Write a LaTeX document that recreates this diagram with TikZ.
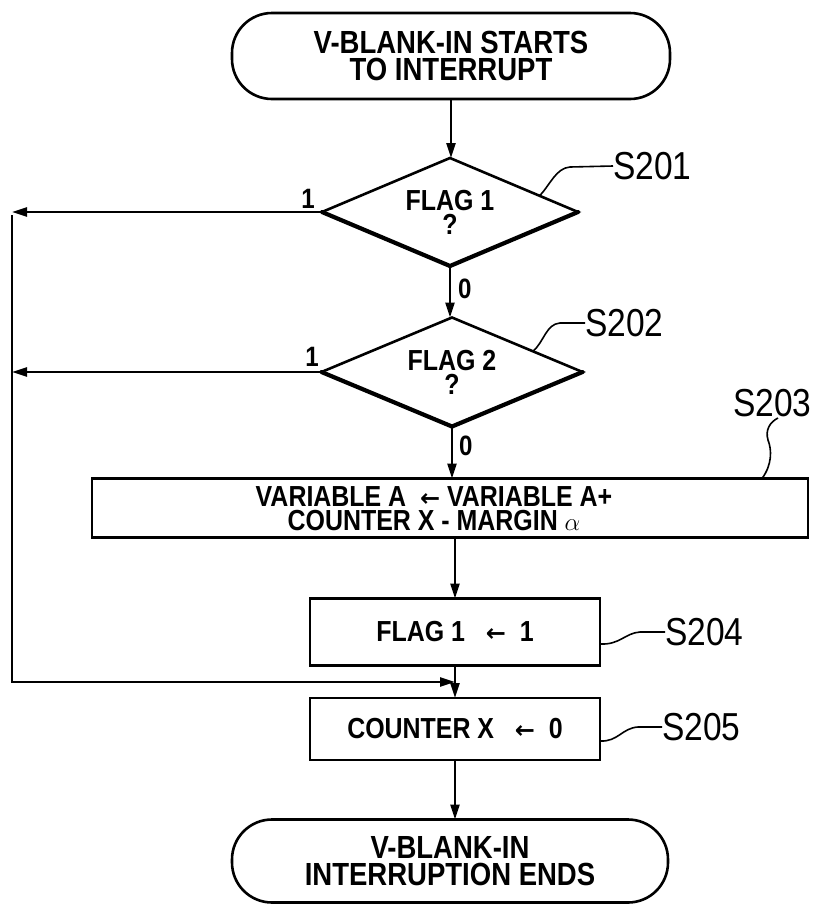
\documentclass[tikz,border=0pt]{standalone}
\usepackage{fontspec}
\setmainfont{Liberation Sans}
\newfontfamily\cond[FakeStretch=0.86]{Liberation Sans}
\newfontfamily\arrowfont{DejaVu Sans}
\newcommand{\larr}{{\arrowfont\bfseries\fontsize{24}{24}\selectfont ←}}
\usetikzlibrary{shapes.geometric,arrows.meta,calc}
\begin{document}
\begin{tikzpicture}[x=1pt,y=-1pt,
  every node/.style={inner sep=0pt, outer sep=0pt},
  shapebox/.style={draw, line width=2.6pt, rectangle},
  term/.style={draw, line width=2.6pt, rectangle, rounded corners=40pt, align=center, font=\cond\bfseries\fontsize{32}{27}\selectfont},
  dec/.style={draw, line width=2.6pt, diamond, aspect=2.4, align=center, font=\cond\bfseries\fontsize{29}{24}\selectfont},
  txt/.style={align=center, font=\cond\bfseries\fontsize{29}{24}\selectfont},
  flow/.style={font=\cond\bfseries\fontsize{28}{28}\selectfont},
  steplab/.style={anchor=west, font=\cond\fontsize{39}{39}\selectfont},
  conn/.style={line width=2.3pt},
  arr/.style={conn, -{Triangle[length=15pt,width=9pt]}},
  leader/.style={line width=1.6pt},
  heavy/.style={line width=4.2pt, line cap=round}
]
\useasboundingbox (0,0) rectangle (825,908);

\node[term, minimum width=438pt, minimum height=86pt] (start) at (451,56) {V-BLANK-IN STARTS\\TO INTERRUPT};
\node[dec, minimum width=256pt, minimum height=108pt] (d1) at (450,212) {FLAG 1\\?};
\node[dec, minimum width=261pt, minimum height=109pt] (d2) at (452,372) {FLAG 2\\?};
\node[shapebox, minimum width=716pt, minimum height=59pt] (s203) at (450,508) {};
\node[txt] (t203) at (434,509) {VARIABLE A \ \larr\ VARIABLE A+\\COUNTER X - MARGIN $\alpha$};
\node[shapebox, txt, minimum width=290pt, minimum height=67pt] (s204) at (455,632) {FLAG 1 \ \ \larr\ \ 1};
\node[shapebox, txt, minimum width=290pt, minimum height=62pt] (s205) at (455,729) {COUNTER X \ \ \larr\ \ 0};
\node[term, minimum width=436pt, minimum height=83pt] (end) at (450,861) {V-BLANK-IN\\INTERRUPTION ENDS};

% heavier lower edges of the decisions
\draw[heavy] (d1.west) -- (d1.south) -- (d1.east);
\draw[heavy] (d2.west) -- (d2.south) -- (d2.east);

% flow labels
\node[flow] (l1a) at (308,199) {1};
\node[flow, anchor=west] (l0a) at (458,289) {0};
\node[flow] (l1b) at (312,357) {1};
\node[flow, anchor=west] (l0b) at (459,446) {0};

% step labels
\node[steplab] (n201) at (613,166) {S201};
\node[steplab] (n202) at (585,323) {S202};
\node[steplab] (n203) at (733,403) {S203};
\node[steplab] (n204) at (665,632) {S204};
\node[steplab] (n205) at (662,727) {S205};

% connectors
\coordinate (lx) at (12,215);
\coordinate (loopy) at (12,682);
\draw[arr] (start.south) -- (start.south |- d1.north);
\draw[arr] (d1.south) -- (d1.south |- d2.north);
\draw[arr] (d2.south) -- (d2.south |- s203.north);
\draw[arr] (s204.north |- s203.south) -- (s204.north);
\draw[arr] (s204.south) -- (s205.north);
\draw[arr] (s205.south) -- (s205.south |- end.north);
\draw[arr] (d1.west) -- (d1.west -| lx);
\draw[arr] (d2.west) -- (d2.west -| lx);
\draw[arr] (lx) -- (loopy) -- (loopy -| s204.south);

% leaders
\coordinate (c201) at ($(d1.north)!0.7!(d1.east)$);
\coordinate (c202) at ($(d2.north)!0.62!(d2.east)$);
\coordinate (c203) at ($(s203.north east)+(-46,0)$);
\coordinate (c204) at ($(s204.east)+(0,12)$);
\coordinate (c205) at ($(s205.east)+(0,12)$);
\draw[leader] (c201) .. controls (550,185) and (556,168) .. (570,167) -- (n201.west);
\draw[leader] (c202) .. controls (544,342) and (546,324) .. (560,323) -- (n202.west);
\draw[leader] (c203) .. controls (772,465) and (772,450) .. (768,440) .. controls (765,430) and (770,422) .. (778,418);
\draw[leader] (c204) .. controls (620,645) and (625,633) .. (640,632) -- (n204.west);
\draw[leader] (c205) .. controls (618,742) and (622,728) .. (638,727) -- (n205.west);
\end{tikzpicture}
\end{document}
